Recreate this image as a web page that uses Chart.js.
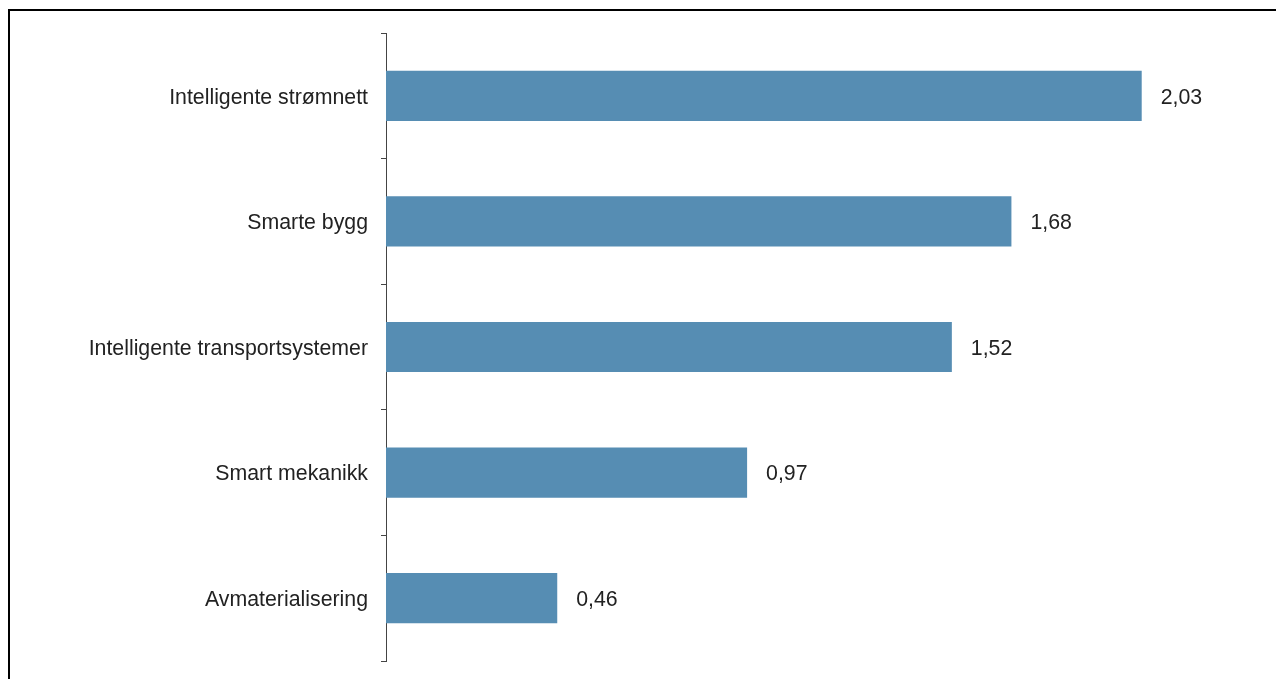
<!DOCTYPE html>
<html>
<head>
<meta charset="utf-8">
<script src="https://cdn.jsdelivr.net/npm/chart.js@4"></script>
<style>
  html, body { margin: 0; padding: 0; background: #fff; }
  #wrap { position: absolute; left: 8px; top: 9px; width: 1268px; height: 670px;
          border-left: 2px solid #000; border-top: 2px solid #000; }
  canvas { display: block; }
</style>
</head>
<body>
<div id="wrap"><canvas id="bar-chart" width="1266" height="668"></canvas></div>
<script>
var categories = ['Intelligente strømnett', 'Smarte bygg', 'Intelligente transportsystemer', 'Smart mekanikk', 'Avmaterialisering'];
var values = [2.03, 1.68, 1.52, 0.97, 0.46];
var valueLabels = ['2,03', '1,68', '1,52', '0,97', '0,46'];

Chart.defaults.font.family = '"Liberation Sans", Arial, sans-serif';
Chart.defaults.font.size = 21.3;
Chart.defaults.color = '#222';

// writes the value to the right of each bar
var barValues = {
	id: 'barValues',
	afterDatasetsDraw: function(chart) {
		var ctx = chart.ctx;
		var meta = chart.getDatasetMeta(0);
		ctx.save();
		ctx.font = '21.3px "Liberation Sans", Arial, sans-serif';
		ctx.fillStyle = '#222';
		ctx.textAlign = 'left';
		ctx.textBaseline = 'middle';
		meta.data.forEach(function(bar, i) {
			ctx.fillText(valueLabels[i], bar.x + 19, bar.y + 2);
		});
		ctx.restore();
	}
};

var ctx = document.getElementById('bar-chart');
new Chart(ctx, {
	type: 'bar',
	data: {
		labels: categories,
		datasets: [{
			backgroundColor: '#568db3',
			data: values,
			categoryPercentage: 1,
			barPercentage: 0.4
		}]
	},
	options: {
		indexAxis: 'y',
		responsive: false,
		animation: false,
		layout: { padding: { top: 22, bottom: 18, left: 0, right: 71 } },
		plugins: {
			legend: { display: false },
			tooltip: { enabled: false }
		},
		scales: {
			x: { display: false, min: 0, max: 2.2 },
			y: {
				afterFit: function(scale) {
					scale.width = 376;
					scale.paddingTop = 0;
					scale.paddingBottom = 0;
				},
				border: { display: true, color: '#444', width: 1 },
				grid: { offset: true, drawOnChartArea: false, drawTicks: true, tickLength: 5, color: '#444' },
				ticks: { padding: 13, labelOffset: 2, color: '#222' }
			}
		}
	},
	plugins: [barValues]
});
</script>
</body>
</html>
